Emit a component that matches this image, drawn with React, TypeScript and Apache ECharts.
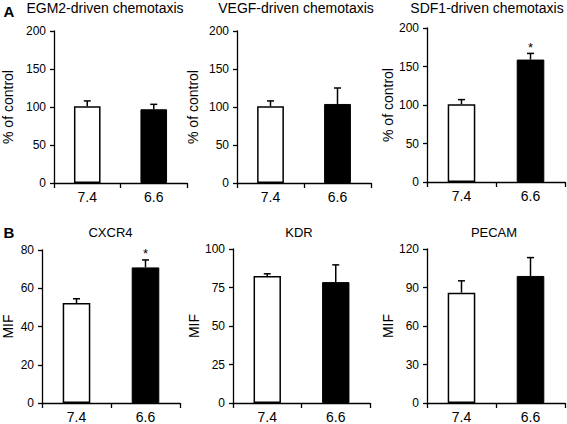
import React, { useEffect, useRef } from "react";
import * as echarts from "echarts";

const categories = ["7.4", "6.6"];
const panelTitles = [
  "EGM2-driven chemotaxis",
  "VEGF-driven chemotaxis",
  "SDF1-driven chemotaxis",
  "CXCR4",
  "KDR",
  "PECAM",
];
const yAxisNames = ["% of control", "% of control", "% of control", "MIF", "MIF", "MIF"];
const yMax = [200, 200, 200, 80, 100, 120];
const yInterval = [50, 50, 50, 20, 25, 30];

const egm2Means = [101, 97];
const egm2Errors = [7, 6.5];
const vegfMeans = [101, 104];
const vegfErrors = [7, 21];
const sdf1Means = [101, 159];
const sdf1Errors = [6, 8];
const cxcr4Means = [52.3, 70.9];
const cxcr4Errors = [2.2, 3.9];
const kdrMeans = [82.4, 78.5];
const kdrErrors = [1.5, 11.2];
const pecamMeans = [86, 99];
const pecamErrors = [9.2, 14.3];

const panelMeans = [egm2Means, vegfMeans, sdf1Means, cxcr4Means, kdrMeans, pecamMeans];
const panelErrors = [egm2Errors, vegfErrors, sdf1Errors, cxcr4Errors, kdrErrors, pecamErrors];
const significant = [
  [false, false],
  [false, false],
  [false, true],
  [false, true],
  [false, false],
  [false, false],
];
const panelLetters = ["A", "B"];

const FONT = "'Liberation Sans', Arial, Helvetica, sans-serif";
const INK = "#000";

const gridBoxes = [
  { left: 52, top: 31, width: 135, height: 152 },
  { left: 237, top: 31, width: 134, height: 152 },
  { left: 427, top: 28, width: 138, height: 154 },
  { left: 42, top: 250, width: 138, height: 155 },
  { left: 233, top: 249, width: 137, height: 155 },
  { left: 427, top: 249, width: 138, height: 155 },
];
const nameGaps = [39, 37, 32, 27, 30, 28];
const titlePos = [
  [105, 8],
  [296, 8],
  [487, 8],
  [110.5, 232],
  [299, 232],
  [494, 232],
];
const titleSizes = [14, 14, 14, 13, 13, 13];
const letterPos = [
  [9, 11],
  [9, 232],
];

export default function App() {
  const ref = useRef<HTMLDivElement>(null);

  useEffect(() => {
    if (!ref.current) return;
    const chart = echarts.init(ref.current, undefined, { renderer: "svg" });

    const grid = gridBoxes.map((g) => ({ ...g, containLabel: false }));

    const xAxis = gridBoxes.map((_, i) => ({
      type: "category",
      gridIndex: i,
      data: categories,
      boundaryGap: true,
      axisLine: { show: true, lineStyle: { color: INK, width: 1.3 } },
      axisTick: { show: true, length: 5, lineStyle: { color: INK, width: 1.3 } },
      axisLabel: { color: INK, fontSize: 14, fontFamily: FONT, margin: 7 },
      splitLine: { show: false },
    }));

    const yAxis = gridBoxes.map((_, i) => ({
      type: "value",
      gridIndex: i,
      min: 0,
      max: yMax[i],
      interval: yInterval[i],
      name: yAxisNames[i],
      nameLocation: "middle",
      nameGap: nameGaps[i],
      nameTextStyle: { color: INK, fontSize: 14, fontFamily: FONT },
      axisLine: { show: true, lineStyle: { color: INK, width: 1.3 } },
      axisTick: { show: true, length: 4, lineStyle: { color: INK, width: 1.3 } },
      axisLabel: { color: INK, fontSize: 12, fontFamily: FONT, margin: 8 },
      splitLine: { show: false },
    }));

    const series: any[] = [];
    panelMeans.forEach((means, i) => {
      series.push({
        type: "bar",
        xAxisIndex: i,
        yAxisIndex: i,
        barWidth: "40%",
        z: 2,
        data: means.map((v, j) => ({
          value: v,
          itemStyle:
            j === 0
              ? { color: "#fff", borderColor: INK, borderWidth: 1.5 }
              : { color: INK, borderColor: INK, borderWidth: 1 },
        })),
      });
      series.push({
        type: "custom",
        xAxisIndex: i,
        yAxisIndex: i,
        z: 3,
        data: means.map((v, j) => [j, v, v + panelErrors[i][j], significant[i][j] ? 1 : 0]),
        encode: { x: 0, y: [1, 2] },
        renderItem: (params: any, api: any) => {
          const idx = api.value(0);
          const base = api.coord([idx, api.value(1)]);
          const tip = api.coord([idx, api.value(2)]);
          const cap = 3.5;
          const children: any[] = [
            {
              type: "line",
              shape: { x1: base[0], y1: base[1], x2: tip[0], y2: tip[1] },
              style: { stroke: INK, lineWidth: 1.5 },
            },
            {
              type: "line",
              shape: { x1: tip[0] - cap, y1: tip[1], x2: tip[0] + cap, y2: tip[1] },
              style: { stroke: INK, lineWidth: 1.5 },
            },
          ];
          if (api.value(3) === 1) {
            children.push({
              type: "text",
              x: tip[0],
              y: tip[1] - 6,
              style: {
                text: "*",
                fill: INK,
                fontSize: 13,
                fontFamily: FONT,
                align: "center",
                verticalAlign: "middle",
              },
            });
          }
          return { type: "group", children };
        },
      });
    });

    const graphic: any[] = [];
    panelTitles.forEach((t, i) => {
      graphic.push({
        type: "text",
        x: titlePos[i][0],
        y: titlePos[i][1],
        style: {
          text: t,
          fill: INK,
          fontSize: titleSizes[i],
          fontFamily: FONT,
          align: "center",
          verticalAlign: "middle",
        },
      });
    });
    panelLetters.forEach((l, i) => {
      graphic.push({
        type: "text",
        x: letterPos[i][0],
        y: letterPos[i][1],
        style: {
          text: l,
          fill: INK,
          fontSize: 15,
          fontWeight: "bold",
          fontFamily: FONT,
          align: "center",
          verticalAlign: "middle",
        },
      });
    });

    chart.setOption({
      animation: false,
      backgroundColor: "#fff",
      grid,
      xAxis,
      yAxis,
      series,
      graphic,
    });

    return () => chart.dispose();
  }, []);

  return (
    <div
      ref={ref}
      style={{ position: "fixed", left: 0, top: 0, width: 567, height: 424, background: "#fff" }}
    />
  );
}
